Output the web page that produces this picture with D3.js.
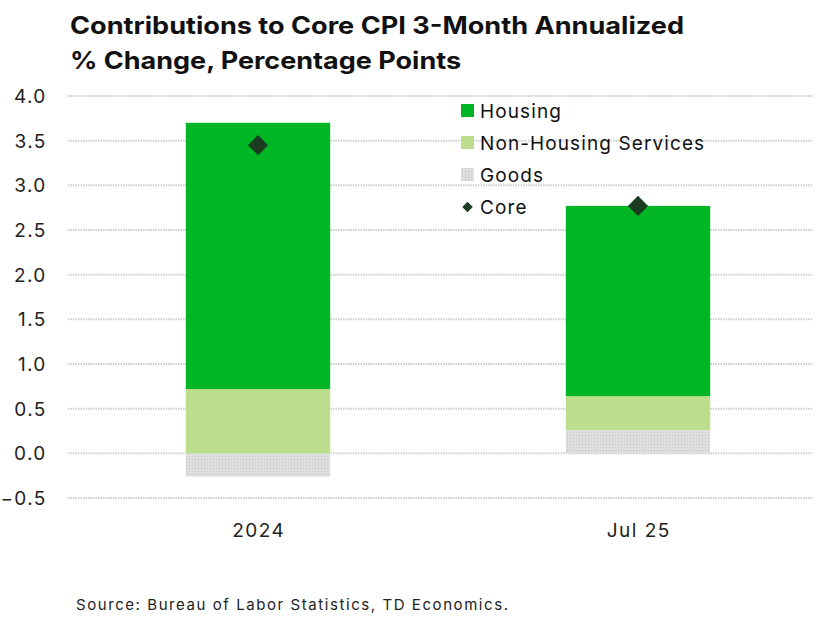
<!DOCTYPE html>
<html>
<head>
<meta charset="utf-8">
<script src="https://cdn.jsdelivr.net/npm/d3@7"></script>
<style>
  body { margin: 0; background: #fff; }
  svg { display: block; font-family: Inter, "Noto Sans", sans-serif; }
</style>
</head>
<body>
<svg id="chart" width="827" height="617"></svg>
<script>
const categories = ['2024', 'Jul 25'];
const housing = [2.98, 2.13];
const nonHousing = [0.72, 0.38];
const goods = [-0.26, 0.26];
const core = [3.45, 2.77];
const yTicks = [-0.5, 0, 0.5, 1, 1.5, 2, 2.5, 3, 3.5, 4];
const legendLabels = ['Housing', 'Non-Housing Services', 'Goods', 'Core'];

const svg = d3.select('#chart');
const defs = svg.append('defs');

// dotted grey fill for goods
const pat = defs.append('pattern')
    .attr('id', 'goodsPat')
    .attr('width', 3)
    .attr('height', 3)
    .attr('patternUnits', 'userSpaceOnUse');
pat.append('rect').attr('width', 3).attr('height', 3).attr('fill', '#dcdcdc');
pat.append('rect').attr('width', 1).attr('height', 1).attr('fill', '#c6c6c6');
pat.append('rect').attr('x', 1.5).attr('y', 1.5).attr('width', 1).attr('height', 1).attr('fill', '#ebebeb');

const plotLeft = 68, plotRight = 812;

const y = d3.scaleLinear().domain([-0.5, 4]).range([498, 96]);
const x = d3.scaleBand().domain(categories).range([68, 828]).paddingInner(0.62).paddingOuter(0.31);

// title
svg.append('text')
    .attr('x', 70).attr('y', 34)
    .attr('font-size', 24).attr('font-weight', 700).attr('fill', '#111')
    .attr('textLength', 614).attr('lengthAdjust', 'spacingAndGlyphs')
    .text('Contributions to Core CPI 3-Month Annualized');
svg.append('text')
    .attr('x', 70).attr('y', 69)
    .attr('font-size', 24).attr('font-weight', 700).attr('fill', '#111')
    .attr('textLength', 391).attr('lengthAdjust', 'spacingAndGlyphs')
    .text('% Change, Percentage Points');

// gridlines
svg.append('g').selectAll('line').data(yTicks).enter()
    .append('line')
    .attr('x1', plotLeft).attr('x2', plotRight)
    .attr('y1', d => y(d)).attr('y2', d => y(d))
    .attr('stroke', '#cfcfcf')
    .attr('stroke-width', 2)
    .attr('stroke-dasharray', '1.5,1');

// y labels (extra x to offset trailing letter-spacing)
svg.append('g').selectAll('text').data(yTicks).enter()
    .append('text')
    .attr('x', 46.5).attr('y', d => y(d))
    .attr('dy', '0.36em')
    .attr('text-anchor', 'end')
    .attr('font-size', 19).attr('letter-spacing', 1.3).attr('fill', '#222')
    .text(d => d3.format('.1f')(d));

// stacked bars
const bars = svg.append('g');
categories.forEach((c, i) => {
    const bx = x(c), bw = x.bandwidth();
    bars.append('rect')
        .attr('x', bx).attr('width', bw)
        .attr('y', y(Math.max(goods[i], 0))).attr('height', Math.abs(y(goods[i]) - y(0)))
        .attr('fill', 'url(#goodsPat)');
    const base = Math.max(goods[i], 0);
    bars.append('rect')
        .attr('x', bx).attr('width', bw)
        .attr('y', y(base + nonHousing[i])).attr('height', y(base) - y(base + nonHousing[i]))
        .attr('fill', '#bcdd8c');
    const base2 = base + nonHousing[i];
    bars.append('rect')
        .attr('x', bx).attr('width', bw)
        .attr('y', y(base2 + housing[i])).attr('height', y(base2) - y(base2 + housing[i]))
        .attr('fill', '#00b624');
});

// core diamonds
svg.append('g').selectAll('path').data(core).enter()
    .append('path')
    .attr('d', d3.symbol().type(d3.symbolDiamond2).size(260))
    .attr('transform', (d, i) => `translate(${x(categories[i]) + x.bandwidth() / 2},${y(d)})`)
    .attr('fill', '#1a3d22');

// category labels
svg.append('g').selectAll('text').data(categories).enter()
    .append('text')
    .attr('x', d => x(d) + x.bandwidth() / 2 + 0.75)
    .attr('y', 537)
    .attr('text-anchor', 'middle')
    .attr('font-size', 19).attr('letter-spacing', 1.5).attr('fill', '#222')
    .text(d => d);

// legend
const legend = svg.append('g');
const legendFills = ['#00b624', '#bcdd8c', 'url(#goodsPat)', '#1a3d22'];
legendLabels.forEach((l, i) => {
    const ly = 111 + i * 32;
    if (i < 3) {
        legend.append('rect')
            .attr('x', 461).attr('y', ly - 7).attr('width', 13).attr('height', 13)
            .attr('fill', legendFills[i]);
    } else {
        legend.append('path')
            .attr('d', d3.symbol().type(d3.symbolDiamond2).size(70))
            .attr('transform', `translate(467.5,${ly})`)
            .attr('fill', legendFills[i]);
    }
    legend.append('text')
        .attr('x', 480).attr('y', ly).attr('dy', '0.36em')
        .attr('font-size', 19).attr('letter-spacing', 1.1).attr('fill', '#111')
        .text(l);
});

// source
svg.append('text')
    .attr('x', 76).attr('y', 610)
    .attr('font-size', 15).attr('fill', '#222')
    .attr('textLength', 432).attr('lengthAdjust', 'spacing')
    .text('Source: Bureau of Labor Statistics, TD Economics.');
</script>
</body>
</html>
